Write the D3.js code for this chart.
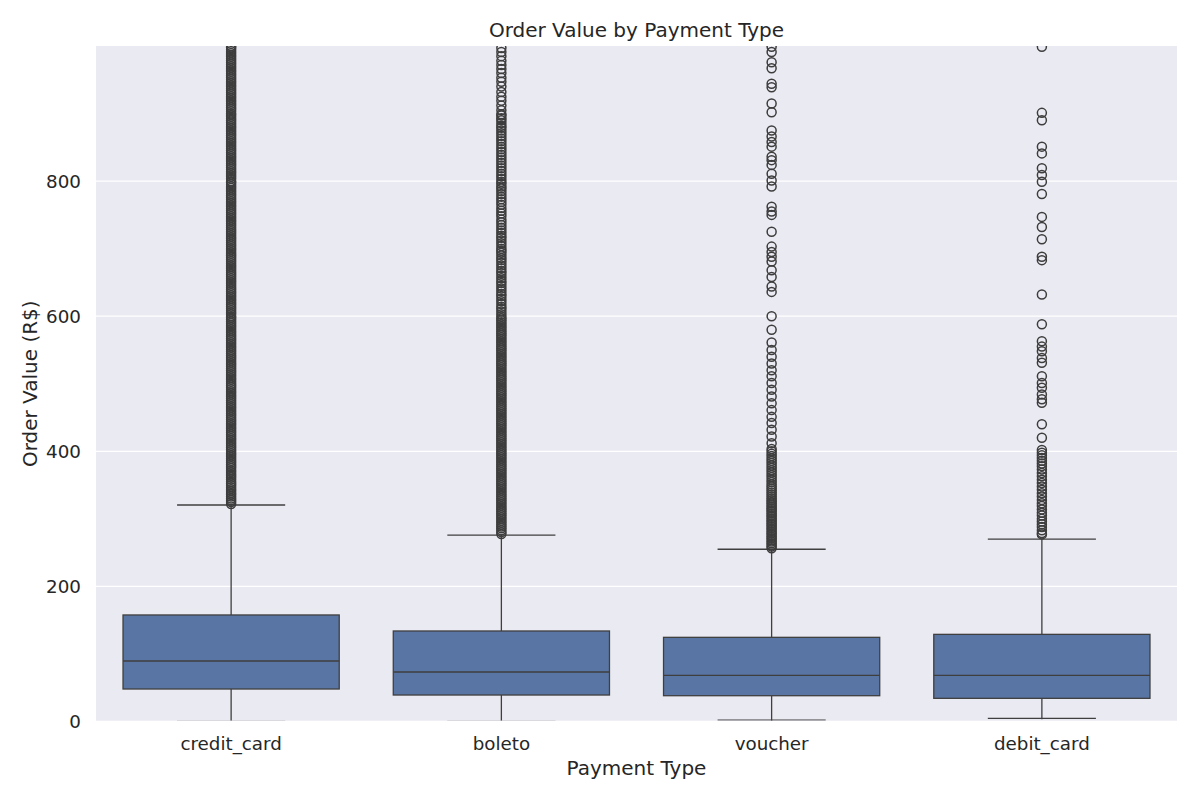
<!DOCTYPE html>
<html lang="en">

<head>
  <meta charset="UTF-8">
  <title>Order Value by Payment Type</title>
  <style>
    body {
      margin: 0;
      background: #fff;
      font-family: "DejaVu Sans", sans-serif;
    }

    .grid line {
      stroke: #fff;
      stroke-width: 1.3;
    }

    .tick-label {
      fill: #262626;
      font-size: 18.3px;
    }

    .axis-label {
      fill: #262626;
      font-size: 20px;
    }

    .title {
      fill: #262626;
      font-size: 20px;
    }

    .box {
      fill: #5975a4;
      stroke: #3f3f3f;
      stroke-width: 1.3;
    }

    .whisker,
    .median {
      stroke: #3f3f3f;
      stroke-width: 1.3;
    }

    .flier {
      fill: none;
      stroke: #3d3d3d;
      stroke-width: 1.5;
    }
  </style>
</head>

<body>
  <div id="chart"></div>

  <script src="https://d3js.org/d3.v7.min.js"></script>

  <script>
    const categories = ['credit_card', 'boleto', 'voucher', 'debit_card'];

    // five-number summaries (R$)
    const whiskerLow = [0, 0, 2, 4.7];
    const q1 = [48.1, 39.2, 38.2, 34.3];
    const median = [89.6, 73.3, 68.4, 68.4];
    const q3 = [157.7, 134, 124.6, 129];
    const whiskerHigh = [320.5, 276, 255, 270];

    const yTicks = [0, 200, 400, 600, 800];

    // outliers (R$); above 1000 is cut by the axis
    const creditOutliers = [
      322.1, 324.8, 327.5, 330.2, 333.0, 335.9, 338.4, 341.2, 344.0, 346.7, 349.9, 352.5, 355.0, 358.3, 361.1,
      363.9, 366.5, 369.4, 372.0, 375.2, 377.9, 380.6, 383.3, 386.1, 389.0, 391.8, 394.5, 397.2, 399.9, 402.8,
      405.5, 408.4, 411.0, 413.9, 416.6, 419.5, 422.1, 425.0, 427.8, 430.5, 433.4, 436.0, 438.9, 441.7, 444.5,
      447.2, 450.0, 452.9, 455.6, 458.4, 461.2, 464.0, 466.8, 469.5, 472.4, 475.1, 478.0, 480.7, 483.5, 486.3,
      489.0, 491.9, 494.7, 497.4, 499.9, 503.1, 505.8, 508.6, 511.3, 514.2, 517.0, 519.7, 522.5, 525.4, 528.1,
      530.9, 533.6, 536.5, 539.2, 542.0, 544.9, 547.6, 550.3, 553.2, 556.0, 558.7, 561.5, 564.4, 567.1, 569.9,
      572.6, 575.5, 578.2, 581.0, 583.9, 586.6, 589.4, 592.1, 595.0, 597.8, 599.9, 603.3, 606.0, 608.9, 611.6,
      614.4, 617.2, 620.0, 622.8, 625.5, 628.4, 631.1, 633.9, 636.7, 639.5, 642.2, 645.1, 647.9, 650.6, 653.4,
      656.2, 659.0, 661.8, 664.5, 667.3, 670.1, 672.9, 675.6, 678.5, 681.2, 684.0, 686.8, 689.6, 692.3, 695.2,
      697.9, 700.7, 703.6, 706.3, 709.1, 711.9, 714.7, 717.4, 720.2, 723.0, 725.8, 728.5, 731.4, 734.1, 736.9,
      739.7, 742.5, 745.2, 748.0, 750.8, 753.6, 756.3, 759.1, 761.9, 764.7, 767.5, 770.2, 773.0, 775.8, 778.6,
      781.3, 784.1, 786.9, 789.7, 792.4, 795.2, 798.0, 799.9, 803.5, 806.3, 809.1, 811.9, 814.6, 817.4, 820.2,
      823.0, 825.7, 828.5, 831.3, 834.1, 836.8, 839.6, 842.4, 845.2, 847.9, 850.7, 853.5, 856.3, 859.0, 861.8,
      864.6, 867.4, 870.1, 872.9, 875.7, 878.5, 881.2, 884.0, 886.8, 889.6, 892.3, 895.1, 897.9, 899.9, 903.5,
      906.3, 909.0, 911.8, 914.6, 917.4, 920.1, 922.9, 925.7, 928.5, 931.2, 934.0, 936.8, 939.6, 942.3, 945.1,
      947.9, 950.7, 953.4, 956.2, 959.0, 961.8, 964.5, 967.3, 970.1, 972.9, 975.6, 978.4, 981.2, 984.0, 986.7,
      989.5, 992.3, 995.1, 997.8, 999.9
    ];

    const boletoOutliers = [
      277.6, 280.3, 283.1, 285.9, 288.6, 291.4, 294.2, 297.0, 299.7, 302.5, 305.3, 308.1, 310.8, 313.6, 316.4,
      319.2, 321.9, 324.7, 327.5, 330.3, 333.0, 335.8, 338.6, 341.4, 344.1, 346.9, 349.7, 352.5, 355.2, 358.0,
      360.8, 363.6, 366.3, 369.1, 371.9, 374.7, 377.4, 380.2, 383.0, 385.8, 388.5, 391.3, 394.1, 396.9, 399.6,
      402.4, 405.2, 408.0, 410.7, 413.5, 416.3, 419.1, 421.8, 424.6, 427.4, 430.2, 432.9, 435.7, 438.5, 441.3,
      444.0, 446.8, 449.6, 452.4, 455.1, 457.9, 460.7, 463.5, 466.2, 469.0, 471.8, 474.6, 477.3, 480.1, 482.9,
      485.7, 488.4, 491.2, 494.0, 496.8, 499.5, 502.3, 505.1, 507.9, 510.6, 513.4, 516.2, 519.0, 521.7, 524.5,
      527.3, 530.1, 532.8, 535.6, 538.4, 541.2, 543.9, 546.7, 549.5, 552.3, 555.0, 557.8, 560.6, 563.4, 566.1,
      568.9, 571.7, 574.5, 577.2, 580.0, 582.8, 585.6, 588.3, 591.1, 593.9, 596.7, 599.4,
      603, 607, 611, 614, 618, 622, 626, 630, 633, 637, 641, 645, 649, 652, 656, 660, 664, 667, 671, 675,
      679, 683, 686, 690, 694, 697, 700, 704, 708, 712, 716, 719, 723, 727, 731, 735, 739, 743, 748, 752,
      756, 760, 765, 769, 773, 777, 781, 785, 789, 792, 796, 799, 803, 807, 811, 815, 819, 823, 827, 831,
      835, 839, 843, 847, 851, 855, 859, 863, 867, 871, 875, 879, 882, 886, 890, 893, 897, 899, 905, 912,
      919, 925, 932, 940, 947, 953, 960, 966, 972, 978, 985, 991, 997
    ];

    const voucherOutliers = [
      256.5, 258.9, 261.4, 263.8, 266.3, 268.7, 271.2, 273.6, 276.1, 278.5, 281.0, 283.4, 285.9, 288.3, 290.8,
      293.2, 295.7, 298.1, 300.6, 303.0, 305.5, 307.9, 310.4, 312.8, 315.3, 317.7, 320.2, 322.6, 325.1, 327.5,
      330.0, 333.0, 336.0, 339.0, 342.0, 345.0, 348.0, 351.0, 354.5, 358.0, 361.5, 365.0, 368.5, 372.0, 375.5,
      379.0, 382.5, 386.0, 389.5, 393.0, 396.5, 400.0, 403.5,
      412, 422, 432, 442, 451, 461, 471, 481, 491, 501, 511, 520, 530, 540, 550, 561, 580, 600, 636, 644,
      658, 668, 681, 688, 695, 703, 725, 750, 755, 762, 792, 801, 811, 824, 831, 836, 851, 858, 866, 875,
      902, 915, 939, 944, 967, 976, 991, 999
    ];

    const debitOutliers = [
      277, 279, 283, 288, 292, 296, 300, 305, 309, 314, 319, 323, 328, 333, 338, 343, 348, 353, 358, 363,
      368, 373, 378, 382, 386, 390, 394, 398, 402,
      420, 440, 472, 477, 484, 494, 501, 511, 531, 538, 548, 555, 563, 588, 632, 683, 688, 714, 732, 747,
      781, 799, 809, 819, 841, 851, 890, 901, 999
    ];

    const outliers = [creditOutliers, boletoOutliers, voucherOutliers, debitOutliers];

    const width = 1200;
    const height = 800;
    const margin = { top: 46, right: 23, bottom: 78.5, left: 96 };
    const plotW = width - margin.left - margin.right;
    const plotH = height - margin.top - margin.bottom;

    const svg = d3.select('#chart')
      .append('svg')
      .attr('width', width)
      .attr('height', height);

    const x = d3.scaleBand()
      .domain(categories)
      .range([margin.left, margin.left + plotW])
      .padding(0);

    const y = d3.scaleLinear()
      .domain([0, 1000])
      .range([margin.top + plotH, margin.top]);

    // plot background
    svg.append('rect')
      .attr('x', margin.left)
      .attr('y', margin.top)
      .attr('width', plotW)
      .attr('height', plotH)
      .attr('fill', '#eaeaf2');

    // clip stops just above the zero line, so caps sitting at 0 vanish like in the original
    svg.append('clipPath')
      .attr('id', 'plot-clip')
      .append('rect')
      .attr('x', margin.left)
      .attr('y', margin.top)
      .attr('width', plotW)
      .attr('height', plotH - 1);

    // horizontal grid
    svg.append('g')
      .classed('grid', true)
      .selectAll('line')
      .data(yTicks)
      .enter()
      .append('line')
      .attr('x1', margin.left)
      .attr('x2', margin.left + plotW)
      .attr('y1', d => y(d))
      .attr('y2', d => y(d));

    // y tick labels
    svg.append('g')
      .selectAll('text')
      .data(yTicks)
      .enter()
      .append('text')
      .classed('tick-label', true)
      .attr('x', margin.left - 15)
      .attr('y', d => y(d))
      .attr('dy', '0.36em')
      .attr('text-anchor', 'end')
      .text(d => d);

    // x tick labels
    svg.append('g')
      .selectAll('text')
      .data(categories)
      .enter()
      .append('text')
      .classed('tick-label', true)
      .attr('x', d => x(d) + x.bandwidth() / 2)
      .attr('y', margin.top + plotH + 22)
      .attr('dy', '0.36em')
      .attr('text-anchor', 'middle')
      .text(d => d);

    const boxW = x.bandwidth() * 0.8;
    const capW = boxW * 0.5;

    const boxes = svg.append('g')
      .attr('clip-path', 'url(#plot-clip)')
      .selectAll('g')
      .data(categories)
      .enter()
      .append('g')
      .attr('transform', d => `translate(${x(d) + x.bandwidth() / 2},0)`);

    // whiskers and caps
    boxes.append('line')
      .classed('whisker', true)
      .attr('x1', 0).attr('x2', 0)
      .attr('y1', (d, i) => y(q3[i]))
      .attr('y2', (d, i) => y(whiskerHigh[i]));

    boxes.append('line')
      .classed('whisker', true)
      .attr('x1', 0).attr('x2', 0)
      .attr('y1', (d, i) => y(q1[i]))
      .attr('y2', (d, i) => y(whiskerLow[i]) + 1);

    boxes.append('line')
      .classed('whisker', true)
      .attr('x1', -capW / 2).attr('x2', capW / 2)
      .attr('y1', (d, i) => y(whiskerHigh[i]))
      .attr('y2', (d, i) => y(whiskerHigh[i]));

    boxes.append('line')
      .classed('whisker', true)
      .attr('x1', -capW / 2).attr('x2', capW / 2)
      .attr('y1', (d, i) => y(whiskerLow[i]))
      .attr('y2', (d, i) => y(whiskerLow[i]));

    // box and median
    boxes.append('rect')
      .classed('box', true)
      .attr('x', -boxW / 2)
      .attr('width', boxW)
      .attr('y', (d, i) => y(q3[i]))
      .attr('height', (d, i) => y(q1[i]) - y(q3[i]));

    boxes.append('line')
      .classed('median', true)
      .attr('x1', -boxW / 2).attr('x2', boxW / 2)
      .attr('y1', (d, i) => y(median[i]))
      .attr('y2', (d, i) => y(median[i]));

    // fliers
    boxes.each(function (d, i) {
      d3.select(this)
        .selectAll('circle')
        .data(outliers[i])
        .enter()
        .append('circle')
        .classed('flier', true)
        .attr('cx', 0)
        .attr('cy', v => y(v))
        .attr('r', 4.5);
    });

    // labels
    svg.append('text')
      .classed('title', true)
      .attr('x', margin.left + plotW / 2)
      .attr('y', 30)
      .attr('dy', '0.36em')
      .attr('text-anchor', 'middle')
      .text('Order Value by Payment Type');

    svg.append('text')
      .classed('axis-label', true)
      .attr('x', margin.left + plotW / 2)
      .attr('y', 768)
      .attr('dy', '0.36em')
      .attr('text-anchor', 'middle')
      .text('Payment Type');

    svg.append('text')
      .classed('axis-label', true)
      .attr('transform', `translate(30,${margin.top + plotH / 2}) rotate(-90)`)
      .attr('dy', '0.36em')
      .attr('text-anchor', 'middle')
      .text('Order Value (R$)');
  </script>
</body>

</html>
